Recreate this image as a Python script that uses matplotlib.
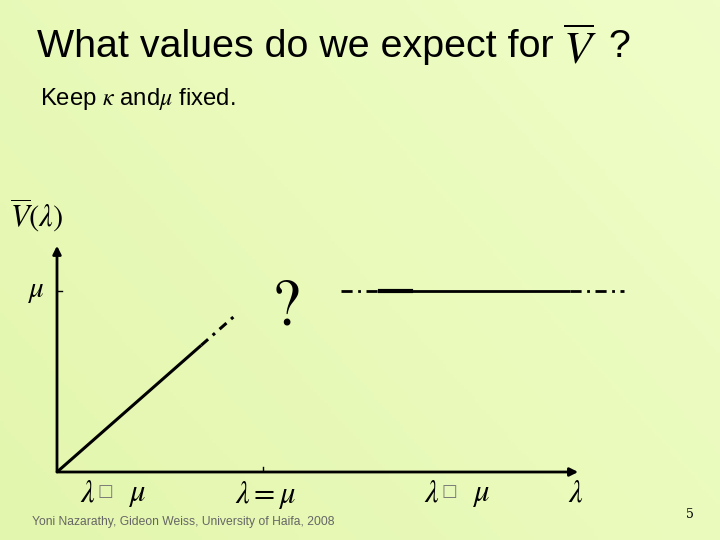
import numpy as np
import matplotlib.pyplot as plt
from matplotlib.colors import LinearSegmentedColormap

plt.rcParams['mathtext.fontset'] = 'stix'

# chart data (units of mu on both axes)
mu = 1.0
x_max, y_max = 2.53, 1.25
diag_solid = [0.0, 0.70]        # V = lambda, light traffic
diag_dash = [0.70, 0.87]
flat_dash_l = [1.38, 1.57]      # V = mu, heavy traffic
flat_solid = [1.57, 2.49]
flat_dash_r = [2.49, 2.75]
region_x = [0.15, 1.01, 1.82]
region_labels = ['low', 'equal', 'high']

fig = plt.figure(figsize=(7.2, 5.4), dpi=100)

# slide background gradient
bg = fig.add_axes([0, 0, 1, 1])
cmap = LinearSegmentedColormap.from_list('slide', ['#e3f6ad', '#effec8'])
gx, gy = np.meshgrid(np.linspace(0, 1, 200), np.linspace(0, 1, 150))
bg.imshow(0.6 * gx + 0.4 * gy, cmap=cmap, origin='lower', aspect='auto',
          extent=[0, 1, 0, 1])
bg.set_axis_off()

fig.text(37 / 720, 1 - 47 / 540, 'What values do we expect for ',
         fontsize=28.4, family='Liberation Sans', va='center', ha='left')
fig.text(563 / 720, 1 - 52 / 540, r'$\overline{V}$', fontsize=33,
         va='center', ha='left')
fig.text(608 / 720, 1 - 47 / 540, '?', fontsize=28.4,
         family='Liberation Sans', va='center', ha='left')
fig.text(40 / 720, 1 - 99 / 540, r'Keep $\kappa$ and$\mu$ fixed.',
         fontsize=17.2, family='Liberation Sans', va='center', ha='left')
fig.text(32 / 720, 1 - 522 / 540,
         'Yoni Nazarathy, Gideon Weiss, University of Haifa, 2008',
         fontsize=8.7, family='Liberation Sans', color='#666666',
         va='center', ha='left')
fig.text(690 / 720, 1 - 515 / 540, '5', fontsize=9, family='DejaVu Serif',
         va='center', ha='center')

# chart axes: origin at pixel (57, 472), mu at x=263 / y=290
x0, y0 = 57, 472
sx, sy = 263 - 57, 472 - 291
ax = fig.add_axes([x0 / 720, 1 - y0 / 540, sx * 3.2 / 720, sy * 1.5 / 540])
ax.set_xlim(0, 3.2)
ax.set_ylim(0, 1.5)
ax.set_axis_off()
ax.patch.set_alpha(0)

arrow = dict(arrowstyle='-|>', color='black', lw=2, mutation_scale=12,
             shrinkA=0, shrinkB=0)
ax.annotate('', xy=(x_max, 0), xytext=(0, 0), arrowprops=arrow)
ax.annotate('', xy=(0, y_max), xytext=(0, 0), arrowprops=arrow)
ax.plot([-0.025, 0.025], [mu, mu], color='black', lw=1)
ax.plot([mu, mu], [-0.03, 0.03], color='black', lw=1)

ax.plot(diag_solid, diag_solid, color='black', lw=2.2, solid_capstyle='butt')
ax.plot(diag_dash, diag_dash, color='black', lw=2.2, ls=(0, (3, 2, 1, 2)))
ax.plot(flat_dash_l, [mu, mu], color='black', lw=2, ls=(0, (4, 2, 1, 2)))
ax.plot(flat_solid, [mu, mu], color='black', lw=2, solid_capstyle='butt')
ax.plot([flat_solid[0], flat_solid[0] + 0.15], [mu, mu], color='black', lw=3)
ax.plot(flat_dash_r, [mu, mu], color='black', lw=2, ls=(0, (4, 2, 1, 2)))

ax.text(1.11, 0.9, '?', fontsize=46, family='STIXGeneral', ha='center',
        va='center')
ax.text(-0.1, mu, r'$\mu$', fontsize=21, ha='center', va='center')
ax.text(-0.1, 1.42, r'$\overline{V}(\lambda)$', fontsize=22, ha='center',
        va='center')
ax.text(2.52, -0.115, r'$\lambda$', fontsize=22, ha='center', va='center')

# region labels under the axis (the original slide's << and >> glyphs
# are missing and show up as empty boxes)
for x, kind in zip(region_x, region_labels):
    if kind == 'equal':
        ax.text(x, -0.125, r'$\lambda = \mu$', fontsize=22, ha='center',
                va='center')
    else:
        ax.text(x, -0.115, r'$\lambda$', fontsize=22, ha='center',
                va='center')
        ax.text(x + 0.087, -0.105, '□', fontsize=12, family='DejaVu Sans',
                color='#777777', ha='center', va='center')
        ax.text(x + 0.24, -0.125, r'$\mu$', fontsize=22, ha='center',
                va='center')

fig.savefig('out.png', dpi=100)
